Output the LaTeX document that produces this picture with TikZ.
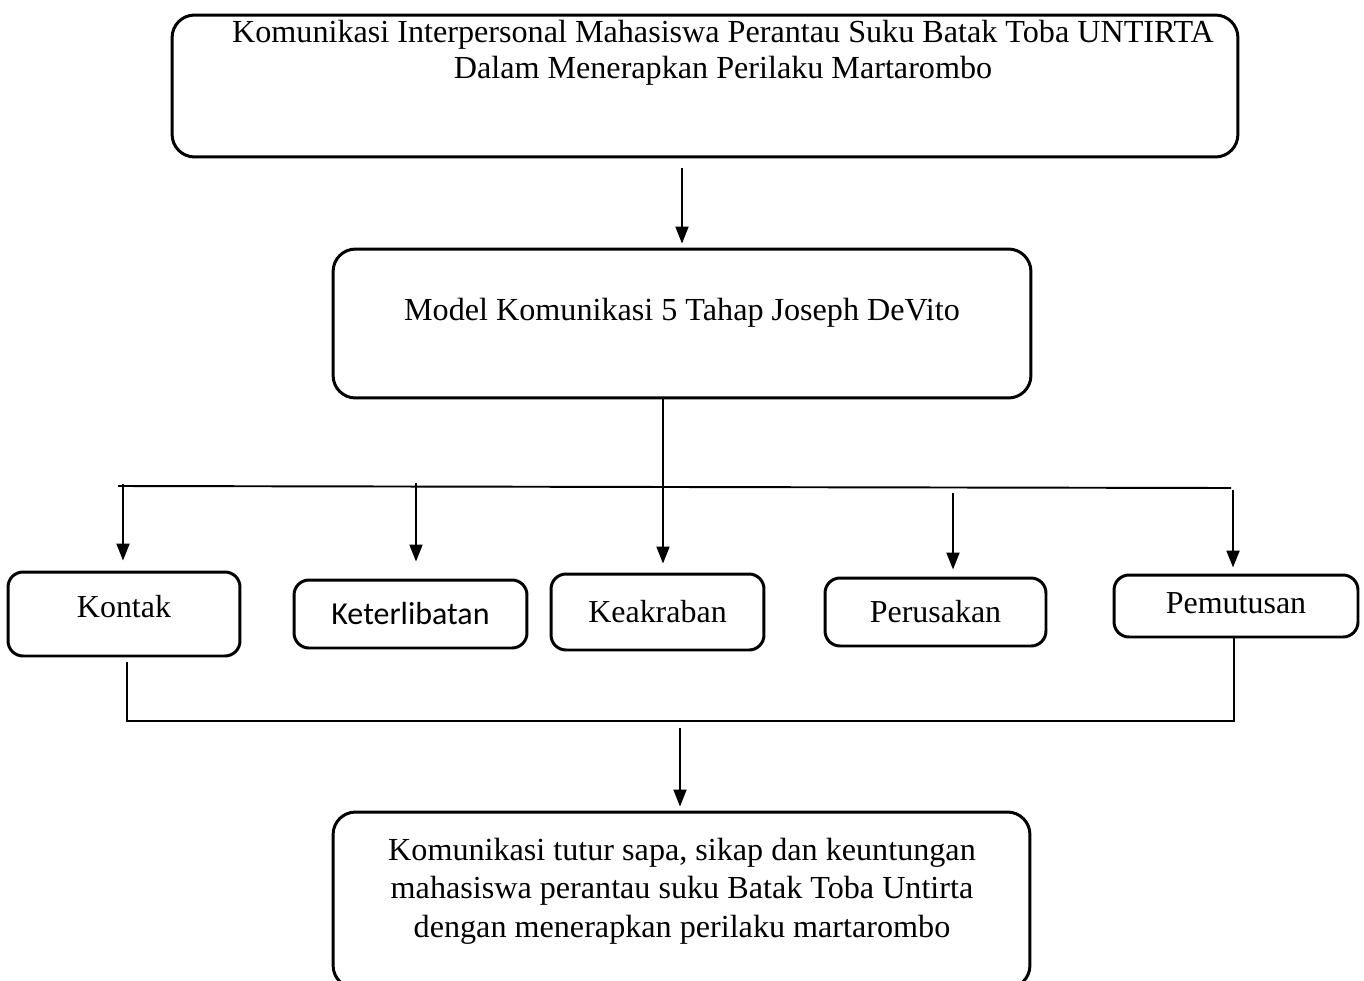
\documentclass[tikz,border=0pt]{standalone}
\usepackage{fontspec}
\setmainfont{Liberation Serif}
\newfontfamily\calibri{Carlito}
\usetikzlibrary{arrows.meta}

\begin{document}
\begin{tikzpicture}[x=0.02cm, y=-0.02cm,
    bigbox/.style={draw, line width=1.7pt, rounded corners=0.45cm},
    smallbox/.style={draw, line width=1.7pt, rounded corners=0.3cm, font=\fontsize{18.2}{21}\selectfont},
    txt/.style={align=center, inner sep=0pt, font=\fontsize{18.3}{#1}\selectfont},
    arr/.style={line width=1.1pt, -{Triangle[length=0.34cm, width=0.26cm]}},
    bus/.style={line width=1.1pt}]
            \useasboundingbox (0,0) rectangle (1364,980);

            % Title box
            \node[bigbox, minimum width=21.32cm, minimum height=2.84cm] (title) at (705,86) {};
            \node[txt=20.6, anchor=north] (titletext) at (723,19.5)
                {Komunikasi Interpersonal Mahasiswa Perantau Suku Batak Toba UNTIRTA\\
                 Dalam Menerapkan Perilaku Martarombo};

            % Model box
            \node[bigbox, minimum width=13.96cm, minimum height=2.98cm,
                  font=\fontsize{18.3}{21}\selectfont, text height=0.44cm, text depth=0.56cm]
                (model) at (682,323.5) {Model Komunikasi 5 Tahap Joseph DeVito};

            % Stages
            \node[smallbox, minimum width=4.64cm, minimum height=1.68cm, text depth=0.3cm] (kontak) at (124,614) {Kontak};
            \node[smallbox, minimum width=4.66cm, minimum height=1.36cm, font=\calibri\fontsize{18.2}{21}\selectfont] (libat) at (410.5,614) {Keterlibatan};
            \node[smallbox, minimum width=4.26cm, minimum height=1.52cm] (akrab) at (657.5,612) {Keakraban};
            \node[smallbox, minimum width=4.42cm, minimum height=1.36cm] (rusak) at (935.5,612) {Perusakan};
            \node[smallbox, minimum width=4.88cm, minimum height=1.24cm, text depth=0.1cm] (putus) at (1236,606) {Pemutusan};

            % Result box
            \begin{scope}
                \clip (0,0) rectangle (1364,980);
                \node[bigbox, minimum width=13.94cm, minimum height=3.52cm] (result) at (681.5,900) {};
            \end{scope}
            \node[txt=21.8, anchor=north] (resulttext) at (682,838)
                {Komunikasi tutur sapa, sikap dan keuntungan\\
                 mahasiswa perantau suku Batak Toba Untirta\\
                 dengan menerapkan perilaku martarombo};

            % Title to model
            \draw[arr, shorten <=0.2cm, shorten >=0.08cm] (model.north |- title.south) -- (model.north);

            % Model to the stages
            \coordinate (split) at (663,398);
            \draw[arr, shorten >=0.18cm] (split) -- (split |- akrab.north);
            \coordinate (busL) at (118,486);
            \coordinate (busR) at (1231,488);
            \draw[bus] (busL) -- (busR);
            \foreach \x/\y/\stage/\gap in {123/484/kontak/0.2, 416/483/libat/0.34,
                                           953/493/rusak/0.14, 1233/490/putus/0.12}
                \draw[arr, shorten >=\gap cm] (\x,\y) -- (\x,\y |- \stage.north);

            % Stages to result
            \coordinate (joinL) at (127,721);
            \coordinate (joinR) at (1234,721);
            \coordinate (joinM) at (680,728);
            \draw[bus] (joinL |- 0,662) -- (joinL) -- (joinR) -- (joinR |- putus.south);
            \draw[arr, shorten >=0.08cm] (joinM) -- (joinM |- result.north);
\end{tikzpicture}
\end{document}
